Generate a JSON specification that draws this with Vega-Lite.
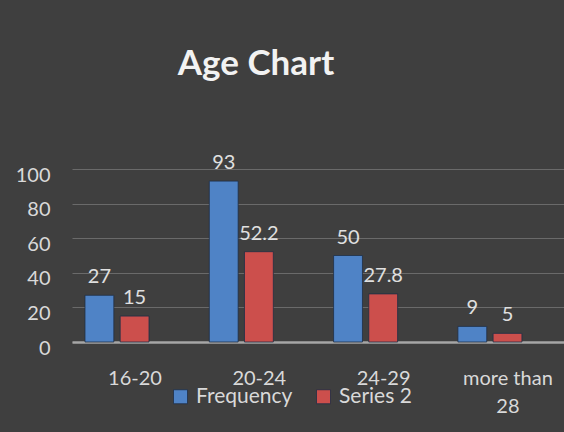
{
  "$schema": "https://vega.github.io/schema/vega-lite/v6.json",
  "autosize": "none",
  "width": 492,
  "height": 173,
  "padding": {"left": 72, "top": 169, "right": 0, "bottom": 90},
  "background": "#3f3f3f",
  "config": {
    "font": "Lato",
    "view": {"stroke": null},
    "axis": {"labelFont": "Lato", "labelFontSize": 20, "labelColor": "#d9d9d9"}
  },
  "title": {
    "text": "Age Chart",
    "font": "Lato",
    "fontSize": 35,
    "fontWeight": "bold",
    "color": "#f2f2f2",
    "anchor": "middle",
    "frame": "group",
    "dx": -62,
    "baseline": "alphabetic",
    "offset": 43
  },
  "data": {
    "values": [
      {"age": "16-20", "series": "Frequency", "value": 27},
      {"age": "16-20", "series": "Series 2", "value": 15},
      {"age": "20-24", "series": "Frequency", "value": 93},
      {"age": "20-24", "series": "Series 2", "value": 52.2},
      {"age": "24-29", "series": "Frequency", "value": 50},
      {"age": "24-29", "series": "Series 2", "value": 27.8},
      {"age": "more than 28", "series": "Frequency", "value": 9},
      {"age": "more than 28", "series": "Series 2", "value": 5}
    ]
  },
  "encoding": {
    "x": {
      "field": "age",
      "type": "nominal",
      "sort": null,
      "scale": {"paddingInner": 0.485, "paddingOuter": 0.2215, "align": 0.236},
      "axis": {
        "title": null,
        "labelAngle": 0,
        "ticks": false,
        "domainColor": "#a6a6a6",
        "domainWidth": 2.5,
        "labelOffset": 18,
        "labelPadding": 26,
        "labelBaseline": "top",
        "labelLineHeight": 28,
        "labelExpr": "datum.label == 'more than 28' ? ['more than', '28'] : datum.label"
      }
    },
    "xOffset": {
      "field": "series",
      "type": "nominal",
      "scale": {"paddingInner": 0.18, "paddingOuter": 0}
    },
    "y": {
      "field": "value",
      "type": "quantitative",
      "scale": {"domain": [0, 100], "nice": false},
      "axis": {
        "title": null,
        "values": [0, 20, 40, 60, 80, 100],
        "domain": false,
        "ticks": false,
        "grid": true,
        "gridColor": "#6a6a6a",
        "gridWidth": 1,
        "labelPadding": 22,
        "labelOffset": 6
      }
    }
  },
  "layer": [
    {
      "mark": {"type": "bar", "stroke": "#1f2f45", "strokeWidth": 0.8},
      "encoding": {
        "color": {
          "field": "series",
          "type": "nominal",
          "scale": {"domain": ["Frequency", "Series 2"], "range": ["#4f83c6", "#cc4f4c"]},
          "legend": {
            "title": null,
            "orient": "none",
            "direction": "horizontal",
            "legendX": 98,
            "legendY": 217,
            "symbolType": "square",
            "symbolSize": 196,
            "symbolStrokeColor": "#1f2f45",
            "symbolStrokeWidth": 0.8,
            "labelFont": "Lato",
            "labelFontSize": 21,
            "labelColor": "#d9d9d9",
            "labelOffset": 5,
            "columnPadding": 20
          }
        }
      }
    },
    {
      "mark": {"type": "text", "baseline": "alphabetic", "dy": -12, "font": "Lato", "fontSize": 20, "color": "#e0e0e0"},
      "encoding": {"text": {"field": "value", "type": "quantitative"}}
    }
  ]
}
